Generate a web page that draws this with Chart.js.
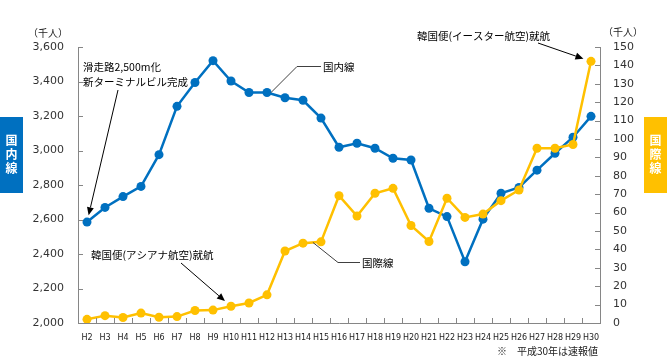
<!DOCTYPE html>
<html>
<head>
<meta charset="utf-8">
<script src="https://cdn.jsdelivr.net/npm/chart.js@4.4.1/dist/chart.umd.min.js"></script>
<style>
  html, body { margin: 0; padding: 0; background: #fff; }
  #wrap { width: 667px; height: 358px; position: relative; }
</style>
</head>
<body>
<div id="wrap"><canvas id="passengerChart" width="667" height="358"></canvas></div>
<script>
// --- Data (千人) ---
const years = ['H2', 'H3', 'H4', 'H5', 'H6', 'H7', 'H8', 'H9', 'H10', 'H11', 'H12', 'H13', 'H14', 'H15', 'H16',
               'H17', 'H18', 'H19', 'H20', 'H21', 'H22', 'H23', 'H24', 'H25', 'H26', 'H27', 'H28', 'H29', 'H30'];
const domesticData = [2585, 2670, 2733, 2792, 2976, 3256, 3394, 3521, 3403, 3336, 3336, 3306, 3291, 3188, 3019,
                      3042, 3013, 2955, 2945, 2665, 2617, 2355, 2602, 2752, 2786, 2886, 2984, 3077, 3198];
const internationalData = [2, 4, 3, 5.4, 3.1, 3.5, 6.8, 7, 9.1, 10.9, 15.3, 39.1, 43.4, 44.1, 69.2,
                           58.1, 70.5, 73.2, 53, 44.3, 67.8, 57.4, 59.2, 66.5, 72.3, 95, 95, 97, 142.2];
// axis ranges: [min, max, step]
const domesticAxis = [2000, 3600, 200];
const internationalAxis = [0, 150, 10];

const AXIS_COLOR = '#868686';
const JP_FONT = '"Noto Sans CJK JP", sans-serif';

// simple arrow helper, tip at (x2, y2)
function drawArrow(ctx, x1, y1, x2, y2) {
    const ang = Math.atan2(y2 - y1, x2 - x1);
    const head = 8, half = 3.5;
    ctx.beginPath();
    ctx.moveTo(x1, y1);
    ctx.lineTo(x2 - Math.cos(ang) * head, y2 - Math.sin(ang) * head);
    ctx.stroke();
    ctx.beginPath();
    ctx.moveTo(x2, y2);
    ctx.lineTo(x2 - Math.cos(ang) * head - Math.sin(ang) * half, y2 - Math.sin(ang) * head + Math.cos(ang) * half);
    ctx.lineTo(x2 - Math.cos(ang) * head + Math.sin(ang) * half, y2 - Math.sin(ang) * head - Math.cos(ang) * half);
    ctx.closePath();
    ctx.fill();
}

// tip sits a few px back from the point, along the arrow
function backOff(x1, y1, x2, y2, d) {
    const len = Math.hypot(x2 - x1, y2 - y1);
    return [x2 - (x2 - x1) / len * d, y2 - (y2 - y1) / len * d];
}

function sideBox(ctx, x, y, w, h, color, chars) {
    ctx.fillStyle = color;
    ctx.fillRect(x, y, w, h);
    ctx.fillStyle = '#fff';
    ctx.font = 'bold 12px ' + JP_FONT;
    ctx.textAlign = 'center';
    ctx.textBaseline = 'middle';
    chars.forEach((c, i) => ctx.fillText(c, x + w / 2, y + 23 + i * 14));
}

const decorPlugin = {
    id: 'decor',
    afterDraw(chart) {
        const { ctx, chartArea: a, scales } = chart;
        const yL = scales.yDomestic, yR = scales.yIntl, x = scales.x;
        ctx.save();

        // inward tick marks
        ctx.strokeStyle = AXIS_COLOR;
        ctx.lineWidth = 1;
        ctx.beginPath();
        yL.ticks.forEach(t => {
            const py = Math.round(yL.getPixelForValue(t.value)) + 0.5;
            ctx.moveTo(a.left, py); ctx.lineTo(a.left + 5, py);
        });
        yR.ticks.forEach(t => {
            const py = Math.round(yR.getPixelForValue(t.value)) + 0.5;
            ctx.moveTo(a.right - 5, py); ctx.lineTo(a.right, py);
        });
        const half = (x.getPixelForValue(1) - x.getPixelForValue(0)) / 2;
        for (let i = 1; i < years.length; i++) {
            const px = Math.round(x.getPixelForValue(i) - half) + 0.5;
            ctx.moveTo(px, a.bottom); ctx.lineTo(px, a.bottom - 5);
        }
        ctx.stroke();

        // unit labels and note
        ctx.fillStyle = '#222';
        ctx.font = '10px ' + JP_FONT;
        ctx.textBaseline = 'middle';
        ctx.textAlign = 'left';
        ctx.fillText('（千人）', 28, 33);
        ctx.fillText('（千人）', 603, 32);
        ctx.fillText('※　平成30年は速報値', 497, 351);

        // side labels
        sideBox(ctx, 0, 117, 23, 76, '#0070C0', ['国', '内', '線']);
        sideBox(ctx, 644, 117, 23, 76, '#FFC000', ['国', '際', '線']);

        const dom = chart.getDatasetMeta(0).data;
        const intl = chart.getDatasetMeta(1).data;

        // annotation texts
        ctx.fillStyle = '#000';
        ctx.font = '10.5px ' + JP_FONT;
        ctx.textAlign = 'left';
        ctx.textBaseline = 'middle';
        ctx.fillText('滑走路2,500m化', 83, 67.5);
        ctx.fillText('新ターミナルビル完成', 83, 82);
        ctx.fillText('韓国便(アシアナ航空)就航', 91, 255);
        ctx.fillText('韓国便(イースター航空)就航', 417, 36);
        ctx.fillText('国内線', 323, 67);
        ctx.fillText('国際線', 362, 263);

        // arrows
        ctx.strokeStyle = '#000';
        ctx.fillStyle = '#000';
        ctx.lineWidth = 1;
        let p = dom[0], tip = backOff(118, 90, p.x, p.y, 7);
        drawArrow(ctx, 118, 90, tip[0], tip[1]);
        p = intl[8]; tip = backOff(181, 263, p.x, p.y, 8);
        drawArrow(ctx, 181, 263, tip[0], tip[1]);
        p = intl[intl.length - 1]; tip = backOff(538, 43, p.x, p.y, 8);
        drawArrow(ctx, 538, 43, tip[0], tip[1]);

        // leader lines
        ctx.strokeStyle = '#404040';
        ctx.beginPath();
        p = dom[10];
        ctx.moveTo(p.x + 4, p.y);
        ctx.lineTo(297, 66.5);
        ctx.lineTo(321, 66.5);
        const s1 = intl[12], s2 = intl[13];
        ctx.moveTo(s1.x + (s2.x - s1.x) * 0.55, s1.y + (s2.y - s1.y) * 0.55);
        ctx.lineTo(338, 262.5);
        ctx.lineTo(360, 262.5);
        ctx.stroke();

        ctx.restore();
    }
};

const ctx = document.getElementById('passengerChart').getContext('2d');

new Chart(ctx, {
    type: 'line',
    data: {
        labels: years,
        datasets: [
            {
                label: '国内線',
                data: domesticData,
                yAxisID: 'yDomestic',
                borderColor: '#0070C0',
                backgroundColor: '#0070C0',
                pointRadius: 4.5,
                pointBorderWidth: 0,
                borderWidth: 2.5,
                tension: 0,
                order: 1
            },
            {
                label: '国際線',
                data: internationalData,
                yAxisID: 'yIntl',
                borderColor: '#FFC000',
                backgroundColor: '#FFC000',
                pointRadius: 4.5,
                pointBorderWidth: 0,
                borderWidth: 2.5,
                tension: 0,
                order: 0
            }
        ]
    },
    options: {
        responsive: false,
        devicePixelRatio: 1,
        animation: false,
        layout: { padding: { top: 47, left: 0, right: 0, bottom: 0 } },
        scales: {
            x: {
                offset: true,
                grid: { display: false, drawTicks: false },
                border: { display: true, color: AXIS_COLOR },
                ticks: {
                    autoSkip: false,
                    maxRotation: 0,
                    padding: 10,
                    color: '#222',
                    font: { family: 'DejaVu Sans', size: 8 }
                },
                afterFit(s) { s.height = 35; }
            },
            yDomestic: {
                position: 'left',
                min: domesticAxis[0],
                max: domesticAxis[1],
                grid: { display: false, drawTicks: false },
                border: { display: true, color: AXIS_COLOR },
                ticks: {
                    stepSize: domesticAxis[2],
                    padding: 14,
                    color: '#333',
                    font: { family: 'DejaVu Sans', size: 11 },
                    callback: v => v.toLocaleString('en-US')
                },
                afterFit(s) { s.width = 78; }
            },
            yIntl: {
                position: 'right',
                min: internationalAxis[0],
                max: internationalAxis[1],
                grid: { display: false, drawTicks: false },
                border: { display: true, color: AXIS_COLOR },
                ticks: {
                    stepSize: internationalAxis[2],
                    padding: 13,
                    color: '#333',
                    font: { family: 'DejaVu Sans', size: 11 }
                },
                afterFit(s) { s.width = 67; }
            }
        },
        plugins: {
            legend: { display: false },
            tooltip: { enabled: false }
        }
    },
    plugins: [decorPlugin]
});
</script>
</body>
</html>
